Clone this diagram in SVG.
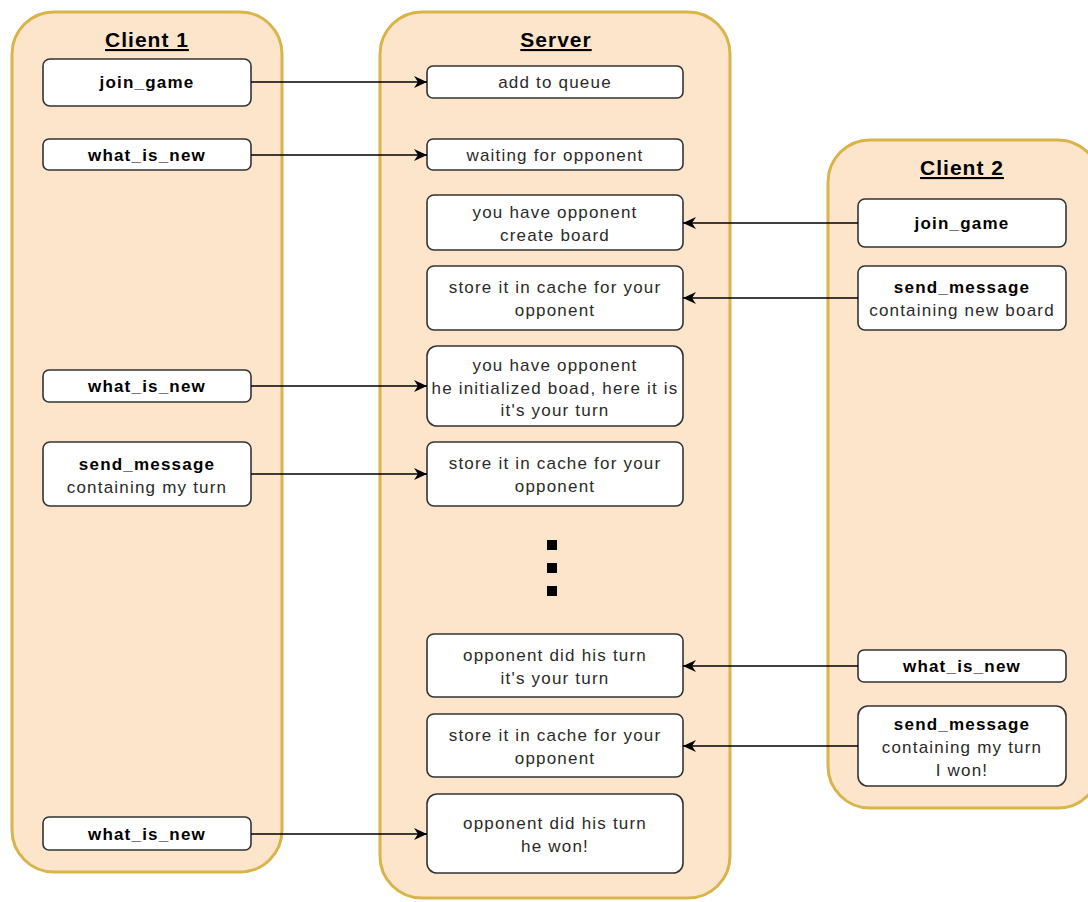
<svg xmlns="http://www.w3.org/2000/svg" width="1088" height="902" viewBox="0 0 1088 902">
<defs>
<marker id="arr" markerWidth="14" markerHeight="12" refX="13" refY="6" orient="auto" markerUnits="userSpaceOnUse">
<path d="M0,0 L13,6 L0,12 L4,6 Z" fill="#000"/>
</marker>
</defs>
<style>
.lane{fill:#fde5cc;stroke:#d9b44a;stroke-width:3}
.box{fill:#fff;stroke:#333;stroke-width:1.6}
.t{font-family:"Liberation Sans",Arial,sans-serif;font-size:17px;letter-spacing:1.2px;fill:#2a2a2a;text-anchor:middle}
.b{font-weight:bold;fill:#000}
.h{font-family:"Liberation Sans",Arial,sans-serif;font-size:21px;letter-spacing:1px;font-weight:bold;text-anchor:middle;text-decoration:underline;fill:#000}
.c{stroke:#000;stroke-width:1.3;fill:none;marker-end:url(#arr)}
</style>
<rect width="1088" height="902" fill="#fff"/>
<g id="client1">
<rect class="lane" x="12" y="12" width="270" height="860" rx="42"/>
<text class="h" x="147" y="47">Client 1</text>
</g>
<g id="server">
<rect class="lane" x="380" y="12" width="350" height="886" rx="42"/>
<text class="h" x="556" y="47">Server</text>
</g>
<g id="client2">
<rect class="lane" x="828" y="140" width="272" height="668" rx="42"/>
<text class="h" x="962" y="175">Client 2</text>
</g>
<g id="c1_join_game"><rect class="box" x="43" y="59" width="208" height="47" rx="7"/><text class="t b" x="147" y="88">join_game</text></g>
<g id="c1_what_is_new1"><rect class="box" x="43" y="139" width="208" height="31" rx="6"/><text class="t b" x="147" y="161">what_is_new</text></g>
<g id="c1_what_is_new2"><rect class="box" x="43" y="370" width="208" height="32" rx="6"/><text class="t b" x="147" y="392">what_is_new</text></g>
<g id="c1_send_message"><rect class="box" x="43" y="442" width="208" height="64" rx="7"/><text class="t b" x="147" y="470">send_message</text><text class="t" x="147" y="493">containing my turn</text></g>
<g id="c1_what_is_new3"><rect class="box" x="43" y="817" width="208" height="33" rx="6"/><text class="t b" x="147" y="840">what_is_new</text></g>
<g id="s_add_queue"><rect class="box" x="427" y="66" width="256" height="32" rx="6"/><text class="t" x="555" y="88">add to queue</text></g>
<g id="s_waiting"><rect class="box" x="427" y="139" width="256" height="31" rx="6"/><text class="t" x="555" y="161">waiting for opponent</text></g>
<g id="s_have_opp"><rect class="box" x="427" y="195" width="256" height="55" rx="7"/><text class="t" x="555" y="218">you have opponent</text><text class="t" x="555" y="241">create board</text></g>
<g id="s_store1"><rect class="box" x="427" y="266" width="256" height="64" rx="7"/><text class="t" x="555" y="293">store it in cache for your</text><text class="t" x="555" y="316">opponent</text></g>
<g id="s_have_opp2"><rect class="box" x="427" y="346" width="256" height="80" rx="10"/><text class="t" x="555" y="371">you have opponent</text><text class="t" x="555" y="394">he initialized boad, here it is</text><text class="t" x="555" y="416">it's your turn</text></g>
<g id="s_store2"><rect class="box" x="427" y="442" width="256" height="64" rx="7"/><text class="t" x="555" y="469">store it in cache for your</text><text class="t" x="555" y="492">opponent</text></g>
<g id="s_dots"><rect x="547" y="540" width="10" height="10" fill="#000"/><rect x="547" y="563" width="10" height="10" fill="#000"/><rect x="547" y="586" width="10" height="10" fill="#000"/></g>
<g id="s_did_turn"><rect class="box" x="427" y="634" width="256" height="63" rx="7"/><text class="t" x="555" y="661">opponent did his turn</text><text class="t" x="555" y="684">it's your turn</text></g>
<g id="s_store3"><rect class="box" x="427" y="714" width="256" height="63" rx="7"/><text class="t" x="555" y="741">store it in cache for your</text><text class="t" x="555" y="764">opponent</text></g>
<g id="s_won"><rect class="box" x="427" y="794" width="256" height="79" rx="10"/><text class="t" x="555" y="829">opponent did his turn</text><text class="t" x="555" y="852">he won!</text></g>
<g id="c2_join_game"><rect class="box" x="858" y="199" width="208" height="48" rx="7"/><text class="t b" x="962" y="229">join_game</text></g>
<g id="c2_send_message1"><rect class="box" x="858" y="266" width="208" height="64" rx="7"/><text class="t b" x="962" y="293">send_message</text><text class="t" x="962" y="316">containing new board</text></g>
<g id="c2_what_is_new"><rect class="box" x="858" y="650" width="208" height="32" rx="6"/><text class="t b" x="962" y="672">what_is_new</text></g>
<g id="c2_send_message2"><rect class="box" x="858" y="706" width="208" height="80" rx="10"/><text class="t b" x="962" y="730">send_message</text><text class="t" x="962" y="753">containing my turn</text><text class="t" x="962" y="776">I won!</text></g>
<g id="connectors">
<line class="c" x1="251" y1="82" x2="427" y2="82"/>
<line class="c" x1="251" y1="155" x2="427" y2="155"/>
<line class="c" x1="858" y1="223" x2="683" y2="223"/>
<line class="c" x1="858" y1="298" x2="683" y2="298"/>
<line class="c" x1="251" y1="386" x2="427" y2="386"/>
<line class="c" x1="251" y1="474" x2="427" y2="474"/>
<line class="c" x1="858" y1="666" x2="683" y2="666"/>
<line class="c" x1="858" y1="746" x2="683" y2="746"/>
<line class="c" x1="251" y1="834" x2="427" y2="834"/>
</g>
</svg>
